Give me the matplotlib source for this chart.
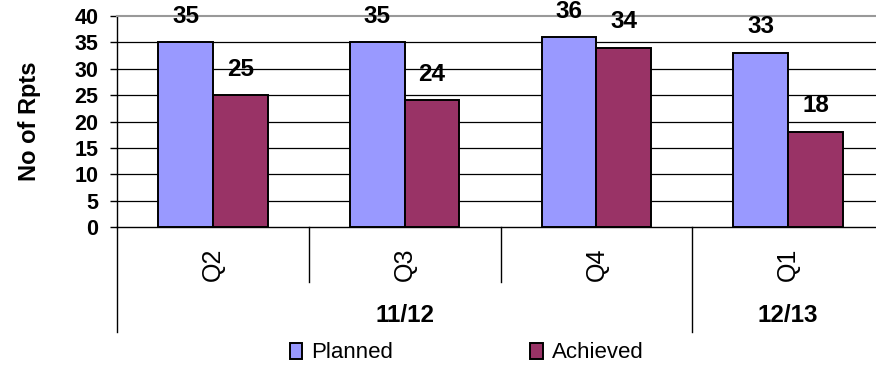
import matplotlib
matplotlib.use("Agg")
import matplotlib.pyplot as plt
from matplotlib.patches import Patch
import numpy as np

plt.rcParams['font.family'] = ['Liberation Sans', 'DejaVu Sans']

quarters = ["Q2", "Q3", "Q4", "Q1"]
years = ["11/12", "12/13"]
year_spans = [(0, 2), (3, 3)]  # first and last quarter index for each year
planned = [35, 35, 36, 33]
achieved = [25, 24, 34, 18]
series_names = ["Planned", "Achieved"]
y_ticks = [0, 5, 10, 15, 20, 25, 30, 35, 40]

planned_color = "#9999FF"
achieved_color = "#993366"

fig = plt.figure(figsize=(8.76, 3.65), dpi=100)
W, H = 876, 365
left, right, top, bottom = 117, 884, 16, 227
ax = fig.add_axes([left / W, 1 - bottom / H, (right - left) / W, (bottom - top) / H])

x = np.arange(len(quarters))
bw = 0.285
bars_p = ax.bar(x - bw / 2, planned, bw, color=planned_color, edgecolor="black", linewidth=1.4, zorder=3)
bars_a = ax.bar(x + bw / 2, achieved, bw, color=achieved_color, edgecolor="black", linewidth=1.4, zorder=3)

for bars, vals in ((bars_p, planned), (bars_a, achieved)):
    for b, v in zip(bars, vals):
        ax.annotate(str(v), (b.get_x() + b.get_width() / 2, v), xytext=(0, 10.5),
                    textcoords="offset points", ha="center", va="bottom",
                    fontsize=17.5, fontweight="bold")

ax.set_xlim(-0.5, len(quarters) - 0.5)
ax.set_ylim(0, 40)
ax.set_yticks(y_ticks)
ax.set_yticklabels([str(t) for t in y_ticks], fontsize=15.5, fontweight="bold")
ax.tick_params(axis="y", length=5, width=1, pad=8.5)
for t in y_ticks[1:-1]:
    ax.axhline(t, color="black", linewidth=0.9, zorder=1)

ax.spines["top"].set_color("#999999")
ax.spines["top"].set_linewidth(1.5)
ax.spines["right"].set_visible(False)
ax.spines["left"].set_linewidth(1.0)
ax.spines["bottom"].set_linewidth(1.0)

ax.set_ylabel("No of Rpts", fontsize=17, fontweight="bold")
ax.yaxis.set_label_coords(-(left - 41) / (right - left), 0.5)

# quarter labels as ticks, rotated
ax.set_xticks(x)
ax.set_xticklabels(quarters, rotation=90, fontsize=18)
ax.tick_params(axis="x", length=0, pad=15)

# category divider lines under the axis
trans = ax.get_xaxis_transform()
inner_depth = -55 / 211
outer_depth = -105 / 211
year_edges = set()
for s, e in year_spans:
    year_edges.add(s - 0.5)
    year_edges.add(e + 0.5)
for d in np.arange(-0.5, len(quarters), 1.0):
    depth = outer_depth if d in year_edges else inner_depth
    ax.plot([d, d], [0, depth], transform=trans, color="black", linewidth=1.0, clip_on=False)

for name, (s, e) in zip(years, year_spans):
    ax.text((s + e) / 2, -89 / 211, name, transform=trans, ha="center", va="center",
            fontsize=17.5, fontweight="bold")

handles = [Patch(facecolor=planned_color, edgecolor="black", linewidth=1.4),
           Patch(facecolor=achieved_color, edgecolor="black", linewidth=1.4)]
fig.legend(handles, series_names, loc="center", bbox_to_anchor=(466.5 / W, 1 - 353 / H),
           ncol=2, frameon=False, prop={"size": 16},
           handlelength=0.55, handleheight=0.75,
           handletextpad=0.4, columnspacing=6.2, borderpad=0)

fig.savefig("out.png", dpi=100)
